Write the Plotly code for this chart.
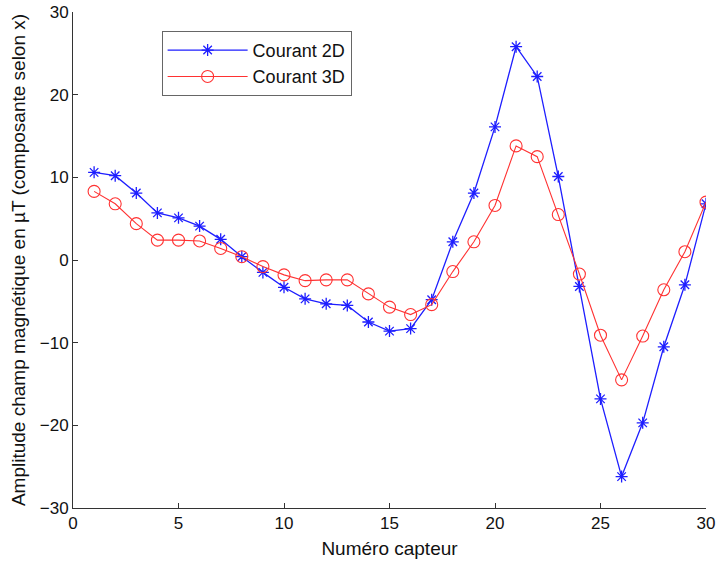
import plotly.graph_objects as go

capteurs = list(range(1, 31))
courant_2d = [10.6, 10.2, 8.1, 5.7, 5.1, 4.1, 2.5, 0.4, -1.5, -3.3,
              -4.7, -5.3, -5.5, -7.5, -8.6, -8.3, -4.8, 2.2, 8.1, 16.1,
              25.8, 22.2, 10.1, -3.2, -16.8, -26.2, -19.7, -10.5, -3.0, 6.8]
courant_3d = [8.3, 6.8, 4.4, 2.4, 2.4, 2.3, 1.4, 0.4, -0.8, -1.8,
              -2.5, -2.4, -2.4, -4.1, -5.7, -6.6, -5.4, -1.4, 2.2, 6.6,
              13.8, 12.5, 5.5, -1.7, -9.1, -14.5, -9.2, -3.6, 1.0, 7.0]
x_ticks = [0, 5, 10, 15, 20, 25, 30]
y_ticks = [-30, -20, -10, 0, 10, 20, 30]

font = "Liberation Sans, Arial, sans-serif"
fig = go.Figure()
fig.add_trace(go.Scatter(
    x=capteurs, y=courant_2d, name="Courant 2D", mode="lines+markers",
    line=dict(color="rgb(30,30,255)", width=1.3),
    marker=dict(symbol="asterisk-open", size=10, color="rgb(30,30,255)",
                line=dict(color="rgb(30,30,255)", width=1.3))))
fig.add_trace(go.Scatter(
    x=capteurs, y=courant_3d, name="Courant 3D", mode="lines+markers",
    line=dict(color="rgb(255,50,50)", width=1.1),
    marker=dict(symbol="circle-open", size=12, color="rgb(255,50,50)",
                line=dict(color="rgb(255,50,50)", width=1.1))))

axis_common = dict(showgrid=False, zeroline=False, showline=True, automargin=False,
                   linecolor="#333", linewidth=1, ticks="inside", ticklen=5,
                   tickcolor="#333", tickfont=dict(size=17, color="#111", family=font),
                   ticklabeloverflow="allow", mirror=False)
fig.update_xaxes(range=[0, 30], tickvals=x_ticks,
                 title=dict(text="Numéro capteur", font=dict(size=19, color="#111", family=font),
                            standoff=9),
                 **axis_common)
fig.update_yaxes(range=[-30, 30], tickvals=y_ticks,
                 title=dict(text="Amplitude champ magnétique en µT (composante selon x)",
                            font=dict(size=19, color="#111", family=font), standoff=9),
                 **axis_common)
fig.update_layout(
    width=717, height=566,
    margin=dict(l=73, r=11, t=12, b=58),
    paper_bgcolor="white", plot_bgcolor="white",
    font=dict(family=font, size=16, color="#111"),
    legend=dict(x=0.14, y=0.962, xanchor="left", yanchor="top",
                bordercolor="#666", borderwidth=1, bgcolor="white",
                font=dict(size=18, family=font, color="#111"),
                itemwidth=80, tracegroupgap=0),
)
fig.write_html("out.html", config={"displayModeBar": False},
               post_script="document.body.style.margin='0';document.body.style.overflow='hidden';")
